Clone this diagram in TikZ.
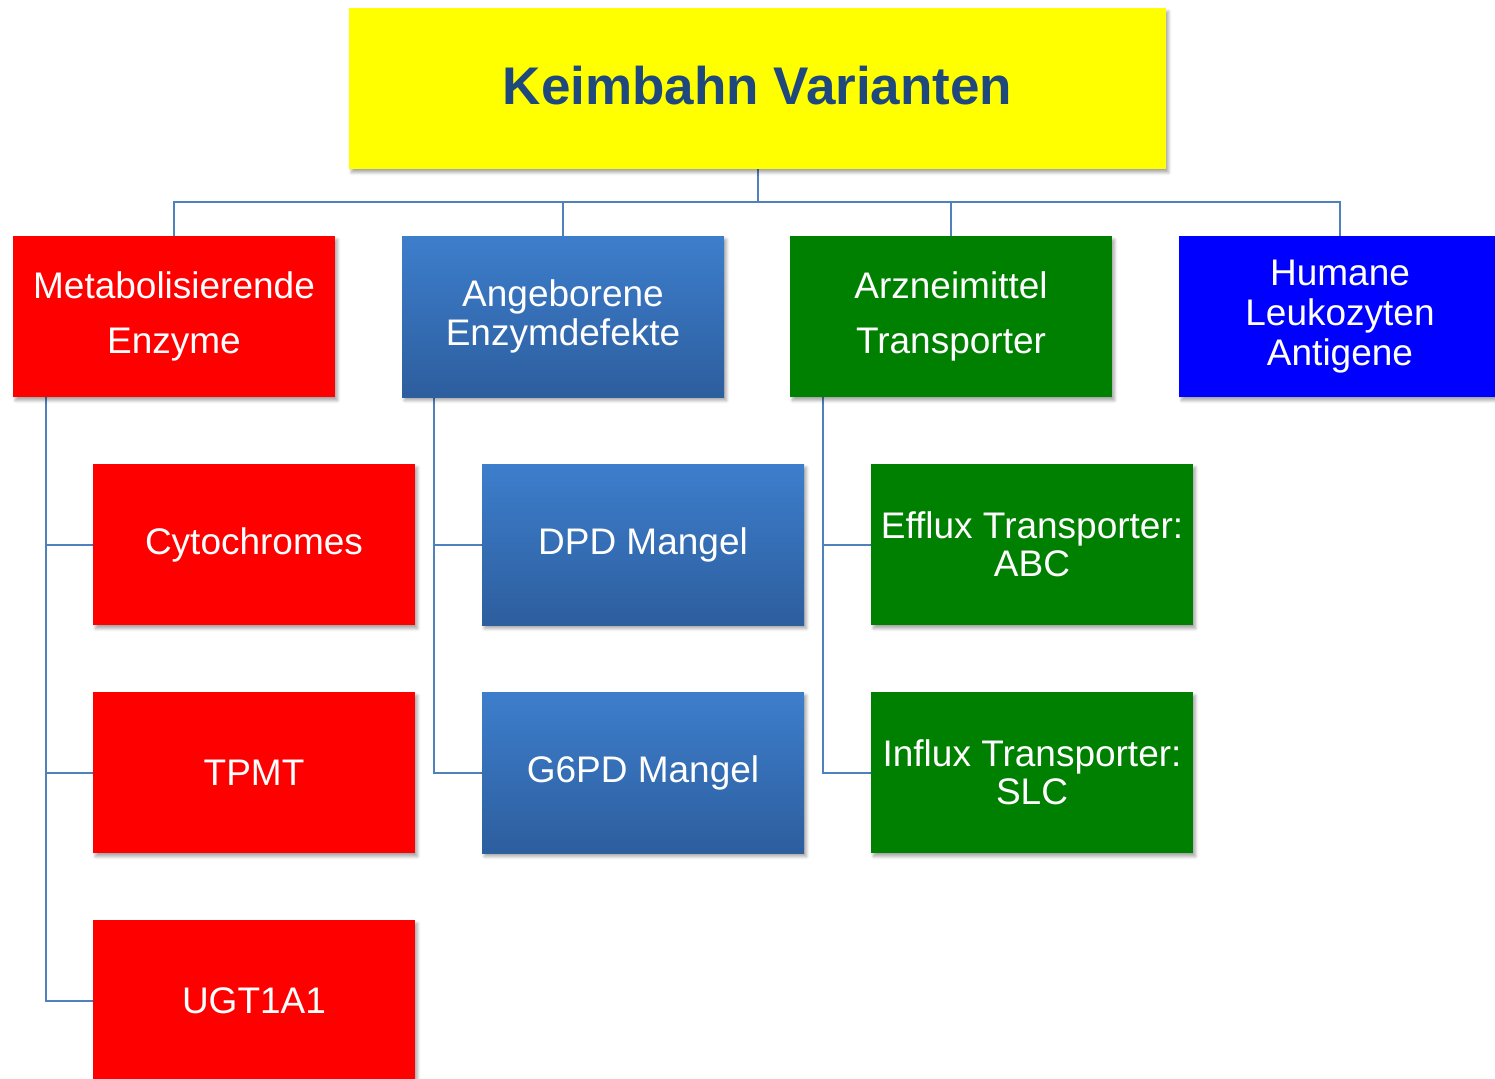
\documentclass[tikz,border=0pt]{standalone}
\usepackage{fontspec}
\setmainfont{Liberation Sans}
\usetikzlibrary{shadows.blur,backgrounds}
\definecolor{conncol}{HTML}{4F81BD}
\definecolor{titlecol}{HTML}{1F497D}
\definecolor{yellowbox}{HTML}{FFFF00}
\definecolor{redbox}{HTML}{FF0000}
\definecolor{greenbox}{HTML}{008000}
\definecolor{bluebox}{HTML}{0000FF}
\definecolor{gradtop}{HTML}{3D7ECC}
\definecolor{gradbot}{HTML}{2D5E9E}
\tikzset{
  box/.style={rectangle, minimum width=322pt, minimum height=161pt, inner sep=0pt,
    text=white, align=center,
    font=\fontsize{37}{44}\selectfont,
    blur shadow={shadow xshift=2.5pt, shadow yshift=-3.5pt, shadow blur steps=6,
      shadow blur radius=3pt, shadow opacity=35}},
  redb/.style={box, fill=redbox},
  greenb/.style={box, fill=greenbox},
  blueb/.style={box, fill=bluebox},
  gradb/.style={box, top color=gradtop, bottom color=gradbot},
  titlebox/.style={rectangle, minimum width=817pt, minimum height=161pt, inner sep=0pt,
    fill=yellowbox, text=titlecol, font=\fontsize{53}{60}\selectfont\bfseries,
    text height=38pt, text depth=5pt,
    blur shadow={shadow xshift=2.5pt, shadow yshift=-3.5pt, shadow blur steps=6,
      shadow blur radius=3pt, shadow opacity=35}},
  conn/.style={draw=conncol, line width=2pt}
}
\begin{document}
\begin{tikzpicture}[x=1pt,y=-1pt]
\useasboundingbox (0,0) rectangle (1495,1078);
\clip (0,0) rectangle (1495,1078);
\coordinate (bus) at (757.5,202);
% nodes
\node[titlebox] (root) at (757.5,88.5) {Keimbahn Varianten};
\node[redb, font=\fontsize{37}{55}\selectfont] (m1) at (174,316.5) {Metabolisierende\\Enzyme};
\node[gradb, font=\fontsize{37}{39}\selectfont] (b1) at (563,316.5) {Angeborene\\Enzymdefekte};
\node[greenb, font=\fontsize{37}{55}\selectfont] (g1) at (951,316.5) {Arzneimittel\\Transporter};
\node[blueb, font=\fontsize{37}{40}\selectfont] (h1) at (1340,316.5) {Humane\\Leukozyten\\Antigene};
\node[redb] (c1) at (254,544.5) {Cytochromes};
\node[redb] (c2) at (254,772.5) {TPMT};
\node[redb] (c3) at (254,1000.5) {UGT1A1};
\node[gradb] (d1) at (643,544.5) {DPD Mangel};
\node[gradb] (d2) at (643,772.5) {G6PD Mangel};
\node[greenb, font=\fontsize{37}{38}\selectfont] (e1) at (1032,544.5) {Efflux Transporter:\\ABC};
\node[greenb, font=\fontsize{37}{38}\selectfont] (e2) at (1032,772.5) {Influx Transporter:\\SLC};
% connectors
\begin{scope}[on background layer]
\draw[conn] (root.south) -- (bus);
\draw[conn] (bus) -| (m1.north);
\draw[conn] (bus) -| (b1.north);
\draw[conn] (bus) -| (g1.north);
\draw[conn] (bus) -| (h1.north);
\draw[conn] ([xshift=33pt]m1.south west) |- (c3.west);
\draw[conn] ([xshift=33pt]m1.south west) |- (c1.west);
\draw[conn] ([xshift=33pt]m1.south west) |- (c2.west);
\draw[conn] ([xshift=32pt]b1.south west) |- (d2.west);
\draw[conn] ([xshift=32pt]b1.south west) |- (d1.west);
\draw[conn] ([xshift=33pt]g1.south west) |- (e2.west);
\draw[conn] ([xshift=33pt]g1.south west) |- (e1.west);
\end{scope}
\end{tikzpicture}
\end{document}
